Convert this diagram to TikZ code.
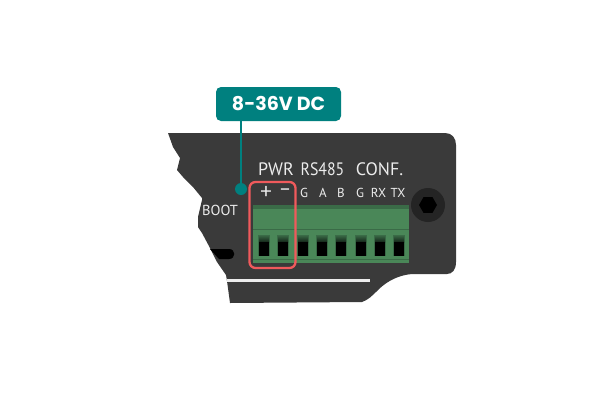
\documentclass[tikz,border=0pt]{standalone}
\usepackage{fontspec}
\setmainfont{PT Sans}
\newfontfamily\popp{Poppins}
\newfontfamily\signf{Carlito}
\definecolor{bodyc}{HTML}{3A3A3A}
\definecolor{tealc}{HTML}{00807F}
\definecolor{redc}{HTML}{F05A5C}
\definecolor{gmain}{HTML}{4A8758}
\definecolor{gdark}{HTML}{3A6B47}
\definecolor{labc}{HTML}{ECECEC}
\tikzset{
  bigl/.style={text=labc,font=\fontsize{18}{19}\selectfont,inner sep=0pt,anchor=center},
  smalll/.style={text=labc,font=\fontsize{13}{14}\selectfont,inner sep=0pt,anchor=center},
  signl/.style={text=labc,font=\signf\fontsize{22}{23}\selectfont,inner sep=0pt,anchor=center},
}
\begin{document}
\begin{tikzpicture}[x=1pt,y=-1pt]
\useasboundingbox (0,0) rectangle (600,418);
\fill[white] (0,0) rectangle (600,418);
% body
\fill[bodyc] (168,133) -- (445,133) .. controls (452,133) and (456,138) .. (456,145)
 -- (456,262) .. controls (456,270) and (452,274) .. (447,274)
 -- (412,274) .. controls (400,275) and (388,280) .. (378,290)
 .. controls (372,296) and (368,300) .. (362,302)
 -- (230,303) -- (227,281) -- (226,275) -- (217,262) -- (210,248) -- (202,233) -- (198,227)
 -- (198,217) -- (202,200) -- (202,198) -- (193,187) -- (183,177) -- (177,170)
 -- (180,158) -- (173,147) -- cycle;
% pill and bright line
\fill[black] (210,249) -- (229,249) .. controls (236,249) and (236,259) .. (229,259) -- (219,259) -- cycle;
\fill[labc] (227,279) rectangle (370,281.5);
% terminal block
\fill[gmain] (253,205) rectangle (409,263);
\fill[gdark] (253,205) rectangle (409,209);
\fill[gdark] (253,228.5) rectangle (409,229.5);
\fill[gdark] (253,258.5) rectangle (409,260);
\foreach \hx in {258,277,297,316,335,355,374,393}{
  \fill[gdark] (\hx,235) rectangle (\hx+12,256);
  \shade[top color=gdark,bottom color=gdark!35!black] (\hx+1,235) rectangle (\hx+11,242);
  \fill[black] (\hx+1,242) rectangle (\hx+11,256);
}
% screw
\fill[black!86] (428,205) circle[radius=17];
\fill[black] (437,205) -- (432.5,212.8) -- (423.5,212.8) -- (419,205) -- (423.5,197.2) -- (432.5,197.2) -- cycle;
% labels
\node[bigl] (pwr) at (276,169.5) {PWR};
\node[bigl,xscale=0.88] (rs) at (322.5,169.5) {RS485};
\node[bigl] (conf) at (379.5,169.5) {CONF.};
\node[signl] (plus) at (266,192.5) {+};
\node[signl] (minus) at (285,192.5) {−};
\node[smalll] (g1) at (304,192.5) {G};
\node[smalll] (a) at (323,192.5) {A};
\node[smalll] (b) at (341,192.5) {B};
\node[smalll] (g2) at (360,192.5) {G};
\node[smalll] (rx) at (378.5,192.5) {RX};
\node[smalll] (tx) at (398,192.5) {TX};
\node[smalll,font=\fontsize{14.5}{15}\selectfont] (boot) at (220,210) {BOOT};
% red frame
\node[draw=redc,line width=2.3pt,rounded corners=6pt,minimum width=46pt,minimum height=86pt,inner sep=0pt] (frame) at (272.5,225) {};
% callout
\node[fill=tealc,rounded corners=5pt,minimum width=125pt,minimum height=34pt,inner sep=0pt,text=white,font=\popp\bfseries\fontsize{19}{20}\selectfont] (callout) at (278.5,104) {8-36V DC\hspace{6pt}};
\node[fill=tealc,circle,minimum size=12pt,inner sep=0pt] (dot) at (241,189) {};
\draw[tealc,line width=2pt] (callout.south -| dot) -- (dot);
\end{tikzpicture}
\end{document}
